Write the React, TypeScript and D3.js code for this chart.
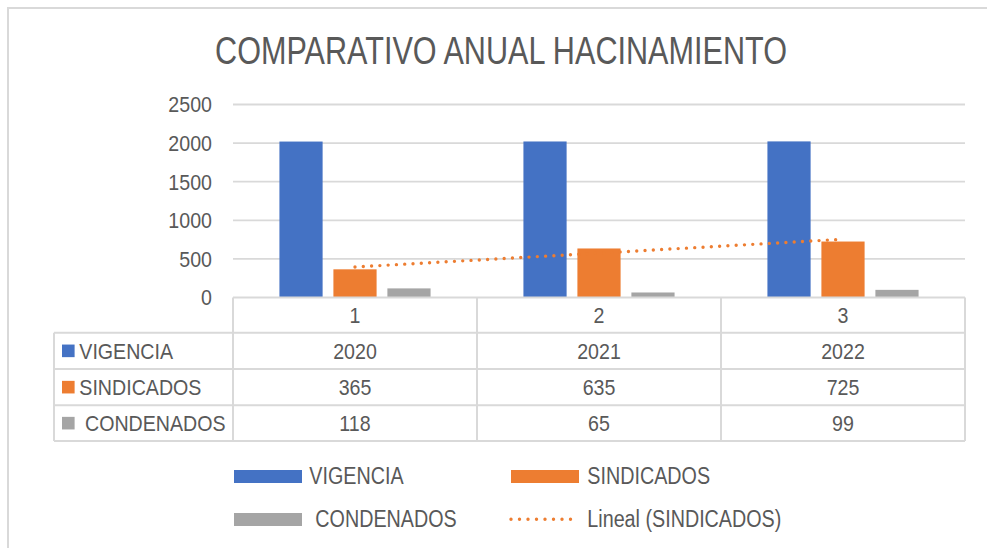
import React from "react";
import * as d3 from "d3";

const CATEGORIES = ["1", "2", "3"];
const SERIES_NAMES = ["VIGENCIA", "SINDICADOS", "CONDENADOS"];
const VIGENCIA = [2020, 2021, 2022];
const SINDICADOS = [365, 635, 725];
const CONDENADOS = [118, 65, 99];
const Y_TICKS = [0, 500, 1000, 1500, 2000, 2500];
const COLORS = ["#4472C4", "#ED7D31", "#A5A5A5"];

const W = 987;
const H = 548;
const FONT = "'Liberation Sans', Arial, sans-serif";
const INK = "#595959";
const GRID = "#D9D9D9";

// condensed text: Excel's rendering is narrower than Arial
function T({ x, y, size, sx = 0.88, anchor = "middle", children }: any) {
  return (
    <text
      transform={`translate(${x},${y}) scale(${sx},1)`}
      fontSize={size}
      fontFamily={FONT}
      fill={INK}
      textAnchor={anchor}
    >
      {children}
    </text>
  );
}

export default function App() {
  const values = [VIGENCIA, SINDICADOS, CONDENADOS];
  const plot = { left: 233, right: 965, top: 104.5, bottom: 297.5 };

  const x0 = d3.scaleBand().domain(CATEGORIES).range([plot.left, plot.right]).padding(0);
  const x1 = d3
    .scaleBand()
    .domain(SERIES_NAMES)
    .range([0, x0.bandwidth()])
    .paddingInner(0.2)
    .paddingOuter(0.86);
  const y = d3.scaleLinear().domain([0, 2500]).range([plot.bottom, plot.top]);

  // linear trend of SINDICADOS (x = 1..n)
  const xs = SINDICADOS.map((_, i) => i + 1);
  const mx = d3.mean(xs)!;
  const my = d3.mean(SINDICADOS)!;
  const slope =
    d3.sum(xs, (v, i) => (v - mx) * (SINDICADOS[i] - my)) / d3.sum(xs, (v) => (v - mx) ** 2);
  const icpt = my - slope * mx;
  const trend = d3
    .line<number>()
    .x((_, i) => x0(CATEGORIES[i])! + x1("SINDICADOS")! + x1.bandwidth() / 2)
    .y((_, i) => y(icpt + slope * (i + 1)));

  // table geometry
  const rowEdges = [297.5, 332.7, 369, 405.3, 441];
  const labelLeft = 54;
  const cellFont = 22.3;

  return (
    <svg
      width={W}
      height={H}
      style={{ position: "absolute", left: 0, top: 0, background: "#fff" }}
    >
      <rect x={8} y={8} width={W + 20} height={H + 20} fill="#fff" stroke="#D9D9D9" strokeWidth={2} />

      <T x={501} y={64.3} size={39.5} sx={0.775}>
        COMPARATIVO ANUAL HACINAMIENTO
      </T>

      {/* gridlines + y labels */}
      {Y_TICKS.map((t) => (
        <g key={t}>
          {t > 0 && (
            <line x1={plot.left} x2={plot.right} y1={y(t)} y2={y(t)} stroke={GRID} strokeWidth={1.8} />
          )}
          <T x={212} y={y(t) + cellFont * 0.358} size={cellFont} anchor="end">
            {t}
          </T>
        </g>
      ))}

      {/* bars */}
      {CATEGORIES.map((c, ci) => (
        <g key={c}>
          {SERIES_NAMES.map((s, si) => (
            <rect
              key={s}
              x={x0(c)! + x1(s)!}
              width={x1.bandwidth()}
              y={y(values[si][ci])}
              height={y(0) - y(values[si][ci])}
              fill={COLORS[si]}
            />
          ))}
        </g>
      ))}

      {/* trendline */}
      <path
        d={trend(SINDICADOS)!}
        fill="none"
        stroke="#ED7D31"
        strokeWidth={3.4}
        strokeLinecap="round"
        strokeDasharray="0 8.3"
      />

      {/* data table */}
      <g stroke={GRID} strokeWidth={2}>
        <line x1={plot.left} x2={plot.right} y1={rowEdges[0]} y2={rowEdges[0]} />
        {rowEdges.slice(1).map((ry) => (
          <line key={ry} x1={labelLeft} x2={plot.right} y1={ry} y2={ry} />
        ))}
        <line x1={labelLeft} x2={labelLeft} y1={rowEdges[1]} y2={rowEdges[4]} />
        {[...CATEGORIES.map((c) => x0(c)!), plot.right].map((vx) => (
          <line key={vx} x1={vx} x2={vx} y1={rowEdges[0]} y2={rowEdges[4]} />
        ))}
      </g>

      {CATEGORIES.map((c) => (
        <T
          key={c}
          x={x0(c)! + x0.bandwidth() / 2}
          y={(rowEdges[0] + rowEdges[1]) / 2 + cellFont * 0.358}
          size={cellFont}
        >
          {c}
        </T>
      ))}

      {SERIES_NAMES.map((s, si) => {
        const cy = (rowEdges[si + 1] + rowEdges[si + 2]) / 2;
        return (
          <g key={s}>
            <rect x={62} y={cy - 6.3} width={12.6} height={12.6} fill={COLORS[si]} />
            <T x={si === 2 ? 85 : 79.3} y={cy + cellFont * 0.358} size={cellFont} anchor="start">
              {s}
            </T>
            {CATEGORIES.map((c, ci) => (
              <T key={c} x={x0(c)! + x0.bandwidth() / 2} y={cy + cellFont * 0.358} size={cellFont}>
                {values[si][ci]}
              </T>
            ))}
          </g>
        );
      })}

      {/* legend */}
      <rect x={234} y={470} width={68} height={13} fill={COLORS[0]} />
      <T x={309.3} y={484} size={23.5} sx={0.84} anchor="start">VIGENCIA</T>
      <rect x={511} y={470} width={68} height={13} fill={COLORS[1]} />
      <T x={587.3} y={484} size={23.5} sx={0.84} anchor="start">SINDICADOS</T>
      <rect x={234} y={513} width={68} height={13} fill={COLORS[2]} />
      <T x={315.3} y={526.5} size={23.5} sx={0.84} anchor="start">CONDENADOS</T>
      <line
        x1={511}
        x2={579}
        y1={519.3}
        y2={519.3}
        stroke="#ED7D31"
        strokeWidth={3.4}
        strokeLinecap="round"
        strokeDasharray="0 8.5"
      />
      <T x={587.3} y={526.5} size={23.5} sx={0.84} anchor="start">Lineal (SINDICADOS)</T>
    </svg>
  );
}
